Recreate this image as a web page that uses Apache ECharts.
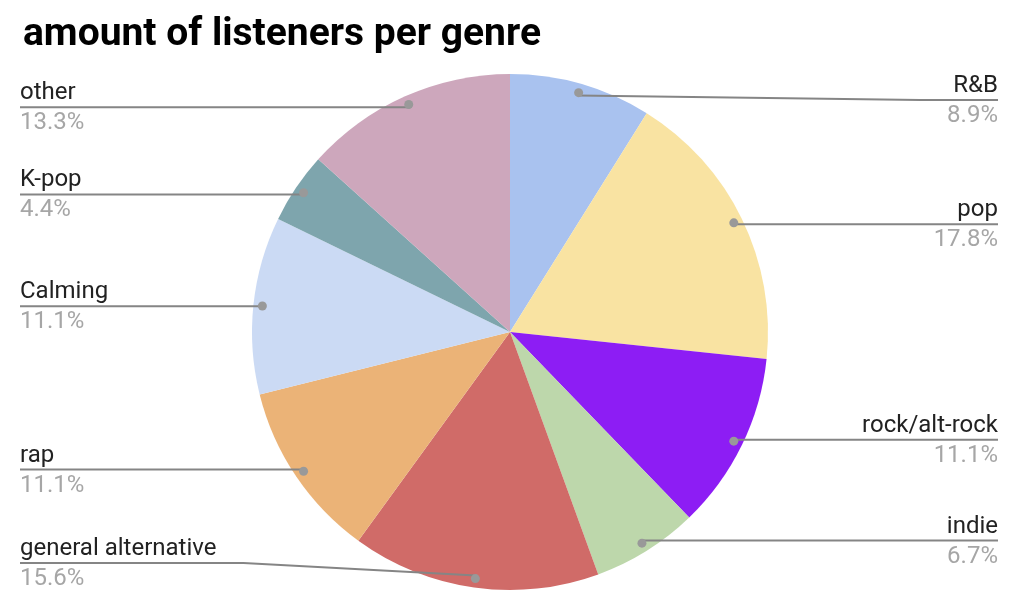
<!DOCTYPE html>
<html>
<head>
<meta charset="utf-8">
<script src="https://cdn.jsdelivr.net/npm/echarts@6/dist/echarts.min.js"></script>
<style>
html,body{margin:0;padding:0;background:#fff;}
#chart{width:1024px;height:602px;}
</style>
</head>
<body>
<div id="chart"></div>
<script>
const titleText = 'amount of listeners per genre';
const genres = ['R&B', 'pop', 'rock/alt-rock', 'indie', 'general alternative', 'rap', 'Calming', 'K-pop', 'other'];
const listeners = [4, 8, 5, 3, 7, 5, 5, 2, 6];
const colors = ['#a9c2ef', '#f9e3a2', '#8d1df4', '#bdd7ab', '#d06b68', '#ebb377', '#cbdaf4', '#7ea5ad', '#cda7bc'];

const CX = 510, CY = 332, R = 258, DOT_R = 246;
const LEFT_X = 20, RIGHT_X = 998;
const total = listeners.reduce((a, b) => a + b, 0);

function midAngle(i) {
  let cum = 0;
  for (let k = 0; k < i; k++) cum += listeners[k];
  return (cum + listeners[i] / 2) / total * Math.PI * 2;
}

const pieData = genres.map((g, i) => ({ name: g, value: listeners[i], itemStyle: { color: colors[i] } }));
const plainData = genres.map((g, i) => ({ name: g, value: listeners[i] }));

const chart = echarts.init(document.getElementById('chart'), null, { renderer: 'canvas' });
chart.setOption({
  backgroundColor: '#ffffff',
  animation: false,
  title: {
    text: titleText,
    left: 18,
    top: 11,
    textStyle: { fontFamily: 'Roboto', fontWeight: 'bold', fontSize: 39, color: '#000' }
  },
  series: [
    {
      type: 'pie',
      center: [CX, CY],
      radius: [0, R],
      startAngle: 90,
      clockwise: true,
      z: 1,
      data: pieData,
      itemStyle: { borderWidth: 0 },
      emphasis: { disabled: true },
      label: { show: false },
      labelLine: { show: false }
    },
    {
      type: 'pie',
      center: [CX, CY],
      radius: [0, R],
      startAngle: 90,
      clockwise: true,
      percentPrecision: 1,
      silent: true,
      z: 4,
      data: plainData,
      itemStyle: { color: 'rgba(0,0,0,0)', borderWidth: 0 },
      emphasis: { disabled: true },
      label: {
        show: true,
        position: 'outside',
        formatter: '{n|{b}}\n{p|{d}%}',
        rich: {
          n: { fontFamily: 'Roboto', fontSize: 24, color: '#222', lineHeight: 30 },
          p: { fontFamily: 'Roboto', fontSize: 24, color: '#a6a6a6', lineHeight: 30 }
        }
      },
      labelLine: { show: true, lineStyle: { color: '#858585', width: 2 } },
      labelLayout: function (params) {
        const i = params.dataIndex;
        const a = midAngle(i);
        const dx = CX + DOT_R * Math.sin(a);
        const dy = CY - DOT_R * Math.cos(a);
        const right = Math.sin(a) > 0;
        const ly = Math.min(Math.max(dy, 100), 563);
        const w = params.labelRect.width;
        const endX = right ? RIGHT_X : LEFT_X;
        const bendX = right ? RIGHT_X - w - 27 : LEFT_X + w + 27;
        return {
          x: endX,
          y: ly + 1,
          align: right ? 'right' : 'left',
          verticalAlign: 'middle',
          labelLinePoints: [[dx, dy], [bendX, ly], [endX, ly]]
        };
      }
    },
    {
      type: 'pie',
      center: [CX, CY],
      radius: [DOT_R - 12, DOT_R + 12],
      startAngle: 90,
      clockwise: true,
      silent: true,
      z: 6,
      data: plainData,
      itemStyle: { color: 'rgba(0,0,0,0)', borderWidth: 0 },
      emphasis: { disabled: true },
      label: {
        show: true,
        position: 'inside',
        formatter: '{d|}',
        rich: { d: { width: 9, height: 9, borderRadius: 4.5, backgroundColor: '#999999' } }
      },
      labelLine: { show: false }
    }
  ]
});
</script>
</body>
</html>
